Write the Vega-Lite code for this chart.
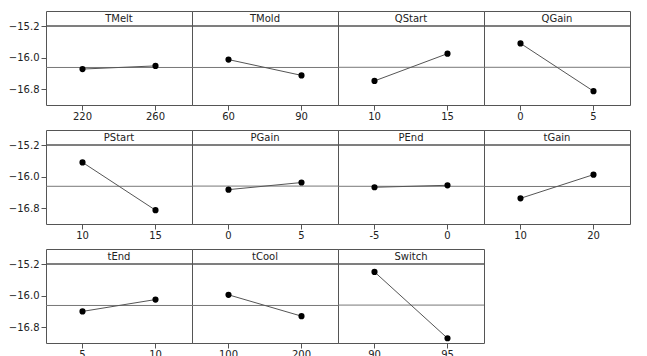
{
  "$schema": "https://vega.github.io/schema/vega-lite/v6.json",
  "padding": {"left": 8, "top": 10, "right": 5, "bottom": 0},
  "background": "white",
  "bounds": "flush",
  "spacing": {"row": 25, "column": 0},
  "config": {
    "view": {"stroke": "#555", "strokeWidth": 1},
    "font": "DejaVu Sans"
  },
  "data": {"values": [
    {"factor": "TMelt", "level": 220, "mean": -16.29},
    {"factor": "TMelt", "level": 260, "mean": -16.21},
    {"factor": "TMold", "level": 60, "mean": -16.05},
    {"factor": "TMold", "level": 90, "mean": -16.45},
    {"factor": "QStart", "level": 10, "mean": -16.59},
    {"factor": "QStart", "level": 15, "mean": -15.90},
    {"factor": "QGain", "level": 0, "mean": -15.64},
    {"factor": "QGain", "level": 5, "mean": -16.85},
    {"factor": "PStart", "level": 10, "mean": -15.64},
    {"factor": "PStart", "level": 15, "mean": -16.85},
    {"factor": "PGain", "level": 0, "mean": -16.33},
    {"factor": "PGain", "level": 5, "mean": -16.15},
    {"factor": "PEnd", "level": -5, "mean": -16.27},
    {"factor": "PEnd", "level": 0, "mean": -16.22},
    {"factor": "tGain", "level": 10, "mean": -16.55},
    {"factor": "tGain", "level": 20, "mean": -15.95},
    {"factor": "tEnd", "level": 5, "mean": -16.40},
    {"factor": "tEnd", "level": 10, "mean": -16.10},
    {"factor": "tCool", "level": 100, "mean": -15.98},
    {"factor": "tCool", "level": 200, "mean": -16.52},
    {"factor": "Switch", "level": 90, "mean": -15.40},
    {"factor": "Switch", "level": 95, "mean": -17.08}
  ]},
  "facet": {
    "field": "factor",
    "type": "nominal",
    "sort": ["TMelt", "TMold", "QStart", "QGain", "PStart", "PGain", "PEnd", "tGain", "tEnd", "tCool", "Switch"],
    "header": {"labels": false, "title": null, "labelExpr": "''", "labelFontSize": 0, "labelPadding": 0}
  },
  "columns": 4,
  "resolve": {"scale": {"x": "independent"}, "axis": {"x": "independent"}},
  "spec": {
    "width": 146,
    "height": 94,
    "layer": [
      {
        "mark": {"type": "rule", "color": "#777", "strokeWidth": 1},
        "encoding": {
          "y": {"aggregate": "mean", "field": "mean", "type": "quantitative",
            "scale": {"domain": [-17.2, -14.82], "nice": false, "zero": false},
            "axis": {"values": [-15.2, -16.0, -16.8], "format": ".1f", "title": null, "grid": false, "domain": false,
              "tickSize": 5, "tickColor": "#555", "labelPadding": 2, "labelFontSize": 10, "labelColor": "#222", "labelFont": "DejaVu Sans"}}
        }
      },
      {
        "mark": {"type": "rule", "color": "#555", "strokeWidth": 1},
        "encoding": {"y": {"datum": -15.2, "type": "quantitative"}}
      },
      {
        "mark": {"type": "line", "color": "#555", "strokeWidth": 1},
        "encoding": {
          "x": {"field": "level", "type": "ordinal", "bandPosition": 0.5,
            "scale": {"type": "band", "paddingInner": 0, "paddingOuter": 0},
            "axis": {"title": null, "labelAngle": 0, "domain": false, "grid": false, "tickSize": 5, "tickColor": "#555",
              "labelPadding": 1, "labelFontSize": 10, "labelColor": "#222", "labelFont": "DejaVu Sans"}},
          "y": {"field": "mean", "type": "quantitative"}
        }
      },
      {
        "mark": {"type": "point", "filled": true, "color": "black", "size": 38, "opacity": 1},
        "encoding": {
          "x": {"field": "level", "type": "ordinal", "bandPosition": 0.5},
          "y": {"field": "mean", "type": "quantitative"}
        }
      },
      {
        "transform": [{"aggregate": [{"op": "min", "field": "level", "as": "level"}], "groupby": ["factor"]}],
        "mark": {"type": "text", "fontSize": 10, "font": "DejaVu Sans", "color": "#222", "baseline": "middle"},
        "encoding": {
          "x": {"field": "level", "type": "ordinal", "bandPosition": 1},
          "y": {"datum": -15.01, "type": "quantitative"},
          "text": {"field": "factor"}
        }
      }
    ]
  }
}
